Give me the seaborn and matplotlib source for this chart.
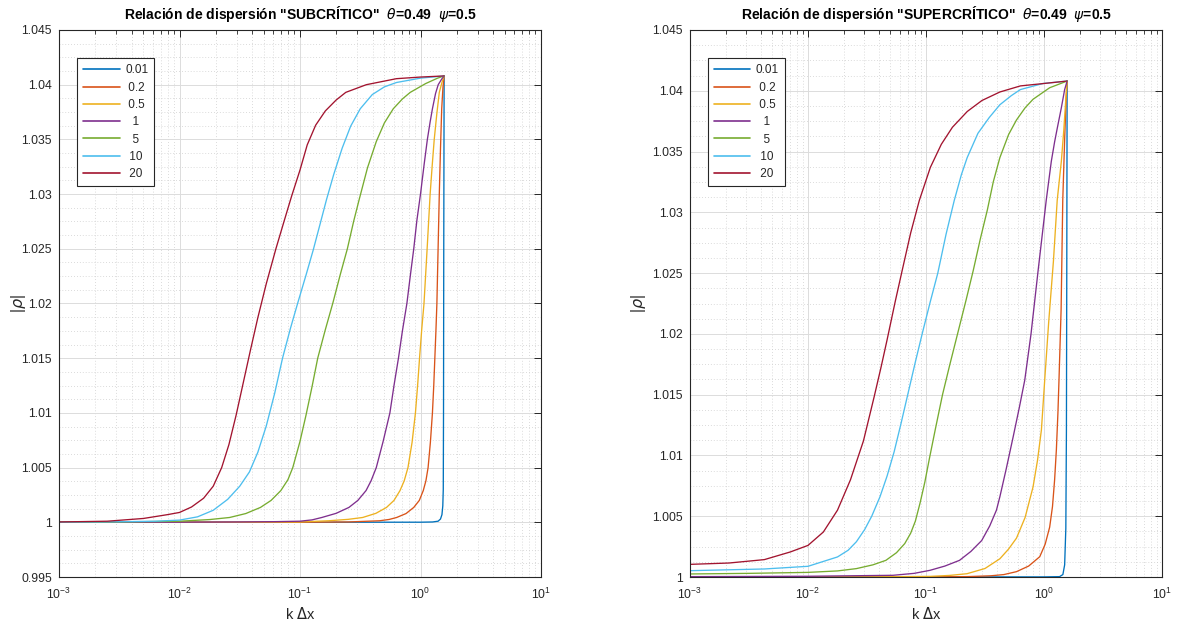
import numpy as np
import pandas as pd
import matplotlib
matplotlib.use("Agg")
import matplotlib.pyplot as plt
import matplotlib.ticker as mticker
import seaborn as sns

# ---------------- data ----------------
# x positions are stored as log10(k*dx); y is |rho|
labels = ["0.01", "0.2", "0.5", "1", "5", "10", "20"]
colors = ["#0072BD", "#D95319", "#EDB120", "#7E2F8E", "#77AC30", "#4DBEEE", "#A2142F"]

# ---- SUBCRITICO (left panel) ----
sub_lx001 = [-3.0, 0.0, 0.1, 0.146, 0.166, 0.178, 0.185, 0.189, 0.191, 0.193, 0.196]
sub_r001 = [1.0, 1.00001, 1.00003, 1.0001, 1.0003, 1.0007, 1.0015, 1.003, 1.01, 1.025, 1.0408]
sub_lx02 = [-3.0, -1.0, -0.6, -0.339, -0.26, -0.198, -0.12, -0.056, -0.01, 0.023, 0.045, 0.063,
            0.082, 0.099, 0.11, 0.119, 0.128, 0.136, 0.146, 0.156, 0.166, 0.176, 0.186, 0.196]
sub_r02 = [1.0, 1.00001, 1.00003, 1.00014, 1.00026, 1.00044, 1.0008, 1.00136, 1.002, 1.0029, 1.0038, 1.005,
           1.0073, 1.01, 1.0125, 1.015, 1.0175, 1.02, 1.025, 1.03, 1.0342, 1.0378, 1.0397, 1.0408]
sub_lx05 = [-3.0, -1.5, -1.0, -0.763, -0.6, -0.48, -0.37, -0.282, -0.22, -0.17, -0.135, -0.104, -0.07,
            -0.042, -0.024, -0.008, 0.01, 0.029, 0.042, 0.055, 0.068, 0.08, 0.097, 0.114, 0.135, 0.156,
            0.178, 0.196]
sub_r05 = [1.0, 1.00001, 1.00003, 1.00014, 1.00027, 1.00044, 1.00082, 1.00136, 1.002, 1.0029, 1.0038, 1.005,
           1.0073, 1.01, 1.0125, 1.015, 1.0176, 1.02, 1.0225, 1.025, 1.0276, 1.03, 1.0326, 1.035, 1.0373,
           1.0393, 1.0402, 1.0408]
sub_lx1 = [-3.0, -2.0, -1.5, -1.2, -1.0, -0.9, -0.819, -0.7, -0.594, -0.52, -0.452, -0.41, -0.367, -0.31,
           -0.254, -0.22, -0.183, -0.15, -0.113, -0.085, -0.056, -0.03, 0.0, 0.03, 0.057, 0.08, 0.099,
           0.125, 0.147, 0.175, 0.196]
sub_r1 = [1.0, 1.00001, 1.00003, 1.00006, 1.0001, 1.00022, 1.00044, 1.00082, 1.00136, 1.002, 1.0029, 1.0038,
          1.005, 1.0074, 1.01, 1.0125, 1.015, 1.0175, 1.02, 1.0225, 1.025, 1.0276, 1.03, 1.0327, 1.035,
          1.0366, 1.0378, 1.0392, 1.0400, 1.0405, 1.0408]
sub_lx5 = [-3.0, -2.5, -2.0, -1.75, -1.584, -1.45, -1.328, -1.24, -1.159, -1.1, -1.06, -1.0, -0.95, -0.9,
           -0.853, -0.79, -0.726, -0.667, -0.607, -0.555, -0.509, -0.44, -0.367, -0.3, -0.226, -0.15,
           -0.085, 0.042, 0.142, 0.196]
sub_r5 = [1.0, 1.00003, 1.0001, 1.00025, 1.00044, 1.0008, 1.00136, 1.002, 1.0029, 1.0039, 1.005, 1.0074,
          1.0098, 1.0124, 1.015, 1.0176, 1.0201, 1.0226, 1.025, 1.0275, 1.0295, 1.0324, 1.0348, 1.0365,
          1.0378, 1.0387, 1.0393, 1.0401, 1.0406, 1.0408]
sub_lx10 = [-3.0, -2.5, -2.2, -2.0, -1.85, -1.72, -1.6, -1.5, -1.42, -1.35, -1.28, -1.21, -1.145, -1.08,
            -1.02, -0.95, -0.89, -0.83, -0.78, -0.72, -0.65, -0.58, -0.5, -0.4, -0.3, -0.2, 0.0, 0.196]
sub_r10 = [1.00001, 1.00005, 1.0001, 1.0002, 1.0005, 1.0011, 1.0021, 1.0033, 1.0046, 1.0064, 1.0088, 1.0118,
           1.015, 1.0177, 1.02, 1.0226, 1.0249, 1.0274, 1.0295, 1.0318, 1.0342, 1.0362, 1.0378, 1.0391,
           1.0398, 1.0402, 1.0406, 1.0408]
sub_lx20 = [-3.0, -2.6, -2.3, -2.1, -2.0, -1.9, -1.8, -1.72, -1.65, -1.59, -1.53, -1.47, -1.41, -1.35,
            -1.28, -1.2, -1.13, -1.07, -1.0, -0.94, -0.87, -0.79, -0.7, -0.62, -0.45, -0.2, 0.0, 0.196]
sub_r20 = [1.00003, 1.0001, 1.00035, 1.0007, 1.0009, 1.0014, 1.0022, 1.0033, 1.005, 1.0071, 1.0098, 1.0128,
           1.0158, 1.0187, 1.0218, 1.025, 1.0276, 1.0298, 1.0322, 1.0345, 1.0363, 1.0376, 1.0386, 1.0393,
           1.0400, 1.04055, 1.0407, 1.0408]

# ---- SUPERCRITICO (right panel) ----
sup_lx001 = [-3.0, 0.0, 0.132, 0.16, 0.175, 0.185, 0.19, 0.193, 0.196]
sup_r001 = [1.0, 1.00001, 1.00003, 1.0002, 1.001, 1.004, 1.012, 1.025, 1.0408]
sup_lx02 = [-3.0, -1.0, -0.653, -0.45, -0.34, -0.233, -0.13, -0.036, 0.01, 0.048, 0.072, 0.09, 0.105,
            0.118, 0.127, 0.145, 0.159, 0.175, 0.187, 0.196]
sup_r02 = [1.0, 1.00001, 1.00003, 1.0001, 1.0002, 1.00044, 1.0009, 1.00167, 1.0027, 1.0041, 1.0058, 1.008,
           1.0105, 1.0135, 1.0162, 1.022, 1.031, 1.036, 1.0392, 1.0408]
sup_lx05 = [-3.0, -1.5, -0.966, -0.8, -0.653, -0.5, -0.374, -0.3, -0.233, -0.16, -0.093, -0.055, -0.022,
            0.006, 0.04, 0.08, 0.112, 0.147, 0.168, 0.184, 0.196]
sup_r05 = [1.0, 1.00001, 1.00005, 1.00013, 1.00027, 1.0007, 1.0015, 1.0023, 1.0032, 1.0049, 1.0074, 1.0096,
           1.0121, 1.0162, 1.021, 1.026, 1.031, 1.0342, 1.0368, 1.0392, 1.0408]
sup_lx1 = [-3.0, -2.0, -1.28, -1.1, -0.966, -0.84, -0.716, -0.62, -0.528, -0.46, -0.403, -0.374, -0.32,
           -0.262, -0.21, -0.163, -0.11, -0.05, 0.019, 0.062, 0.09, 0.112, 0.147, 0.175, 0.196]
sup_r1 = [1.00003, 1.00006, 1.00014, 1.0003, 1.00055, 1.0009, 1.00137, 1.0021, 1.003, 1.0042, 1.0055, 1.0066,
          1.0089, 1.0115, 1.0139, 1.0162, 1.02, 1.0252, 1.031, 1.0342, 1.0358, 1.0369, 1.0386, 1.0401, 1.0408]
sup_lx5 = [-3.0, -2.5, -2.0, -1.75, -1.59, -1.45, -1.34, -1.25, -1.18, -1.13, -1.09, -1.05, -1.01, -0.97,
           -0.92, -0.86, -0.8, -0.73, -0.66, -0.6, -0.54, -0.48, -0.43, -0.374, -0.3, -0.233, -0.16,
           -0.093, 0.048, 0.196]
sup_r5 = [1.00025, 1.0003, 1.00038, 1.0005, 1.00069, 1.001, 1.00137, 1.002, 1.00275, 1.0036, 1.0046, 1.0061,
          1.0078, 1.0098, 1.0122, 1.015, 1.0174, 1.0201, 1.0228, 1.0252, 1.0278, 1.0302, 1.0325, 1.0345,
          1.0364, 1.0376, 1.0386, 1.0393, 1.04025, 1.0408]
sup_lx10 = [-3.0, -2.37, -2.0, -1.75, -1.66, -1.59, -1.52, -1.46, -1.39, -1.33, -1.27, -1.21, -1.15, -1.09,
            -1.03, -0.965, -0.9, -0.83, -0.76, -0.7, -0.651, -0.56, -0.464, -0.374, -0.277, -0.2, -0.008,
            0.196]
sup_r10 = [1.00052, 1.00066, 1.00088, 1.00165, 1.0022, 1.0029, 1.0039, 1.005, 1.0066, 1.0083, 1.0103, 1.0127,
           1.0152, 1.0177, 1.0201, 1.0226, 1.025, 1.0282, 1.031, 1.0331, 1.0345, 1.0365, 1.0378, 1.03885,
           1.0396, 1.0401, 1.0406, 1.0408]
sup_lx20 = [-3.0, -2.67, -2.37, -2.15, -2.0, -1.87, -1.75, -1.64, -1.53, -1.44, -1.38, -1.33, -1.26, -1.2,
            -1.13, -1.056, -0.963, -0.87, -0.776, -0.65, -0.526, -0.374, -0.2, 0.0, 0.196]
sup_r20 = [1.00104, 1.00115, 1.00143, 1.00206, 1.0026, 1.0037, 1.0055, 1.008, 1.0112, 1.0148, 1.0173, 1.0195,
           1.0227, 1.0253, 1.0283, 1.031, 1.0337, 1.0356, 1.037, 1.0383, 1.0392, 1.0399, 1.0404, 1.0406,
           1.0408]

sub_curves = [(sub_lx001, sub_r001), (sub_lx02, sub_r02), (sub_lx05, sub_r05), (sub_lx1, sub_r1),
              (sub_lx5, sub_r5), (sub_lx10, sub_r10), (sub_lx20, sub_r20)]
sup_curves = [(sup_lx001, sup_r001), (sup_lx02, sup_r02), (sup_lx05, sup_r05), (sup_lx1, sup_r1),
              (sup_lx5, sup_r5), (sup_lx10, sup_r10), (sup_lx20, sup_r20)]

titles = ['Relación de dispersión "SUBCRÍTICO"  $\\theta$=0.49  $\\psi$=0.5',
          'Relación de dispersión "SUPERCRÍTICO"  $\\theta$=0.49  $\\psi$=0.5']
ylims = [(0.995, 1.045), (1.0, 1.045)]
yticks_sets = [[0.995, 1.0, 1.005, 1.01, 1.015, 1.02, 1.025, 1.03, 1.035, 1.04, 1.045],
               [1.0, 1.005, 1.01, 1.015, 1.02, 1.025, 1.03, 1.035, 1.04, 1.045]]
xticks = [1e-3, 1e-2, 1e-1, 1e0, 1e1]

# left padding (figure / punctuation / hair spaces) so legend labels look centred
FS, PS, HS = '\u2007', '\u2008', '\u200a'
pad = {"0.01": "", "0.2": PS, "0.5": PS, "1": FS + HS, "5": FS + HS, "10": PS + HS, "20": PS + HS}

# ---------------- drawing ----------------
sns.set_style("white")
plt.rcParams['font.family'] = ['Liberation Sans', 'DejaVu Sans']
plt.rcParams['mathtext.fontset'] = 'dejavusans'

fig = plt.figure(figsize=(11.77, 6.28), dpi=100)
W, H = 1177, 628
axes_px = [(59, 541), (690, 1162)]
top_px, bot_px = 30, 577
legend_x = [0.038, 0.038]
ylabel_x = [-0.064, -0.089]
axc = '#262626'

for i, curves in enumerate([sub_curves, sup_curves]):
    x0, x1 = axes_px[i]
    ax = fig.add_axes([x0 / W, (H - bot_px) / H, (x1 - x0) / W, (bot_px - top_px) / H])
    for (lx, r), lab, c in zip(curves, labels, colors):
        df = pd.DataFrame({"k": np.power(10.0, lx), "r": r})
        sns.lineplot(data=df, x="k", y="r", ax=ax, color=c, label=pad[lab] + lab,
                     linewidth=0.95, estimator=None, sort=False)
    ax.set_xscale('log')
    ax.set_xlim(1e-3, 1e1)
    ax.set_ylim(*ylims[i])
    ax.set_xticks(xticks)
    ax.xaxis.set_major_formatter(mticker.LogFormatterMathtext())
    ax.xaxis.set_minor_locator(mticker.LogLocator(base=10, subs=np.arange(2, 10), numticks=20))
    ax.xaxis.set_minor_formatter(mticker.NullFormatter())
    ax.set_yticks(yticks_sets[i])
    ax.yaxis.set_major_formatter(mticker.FuncFormatter(lambda v, p: '%g' % round(v, 4)))
    ax.yaxis.set_minor_locator(mticker.MultipleLocator(0.00125))
    ax.grid(True, which='major', color='#dcdcdc', linewidth=0.7)
    ax.grid(True, which='minor', color='#cfcfcf', linewidth=0.6, linestyle=(0, (1, 2.5)))
    ax.set_axisbelow(True)
    ax.tick_params(which='both', direction='in', top=True, right=True, colors=axc,
                   labelcolor='#262626', labelsize=8.8)
    ax.tick_params(which='major', length=5, width=0.7)
    ax.tick_params(which='minor', length=3, width=0.6)
    ax.tick_params(axis='x', which='major', pad=7)
    ax.tick_params(axis='y', which='major', pad=5)
    ax.tick_params(axis='y', which='minor', length=0)
    for s in ax.spines.values():
        s.set_color(axc)
        s.set_linewidth(0.8)
    ax.set_title(titles[i], fontsize=10, fontweight='bold', color='black', pad=8)
    ax.set_xlabel('k $\\Delta$x', fontsize=10.5, color='#262626', labelpad=3)
    ax.set_ylabel('|$\\rho$|', fontsize=11.5, color='#262626')
    ax.yaxis.set_label_coords(ylabel_x[i], 0.5)
    leg = ax.legend(loc='upper left', bbox_to_anchor=(legend_x[i], 0.948), fontsize=8.5,
                    frameon=True, fancybox=False, edgecolor='#262626', framealpha=1,
                    handlelength=3.1, handletextpad=0.45, borderpad=0.5, labelspacing=0.45,
                    borderaxespad=0)
    leg.get_frame().set_linewidth(0.8)
    for ln in leg.get_lines():
        ln.set_linewidth(1.2)

fig.savefig('out.png', dpi=100)
